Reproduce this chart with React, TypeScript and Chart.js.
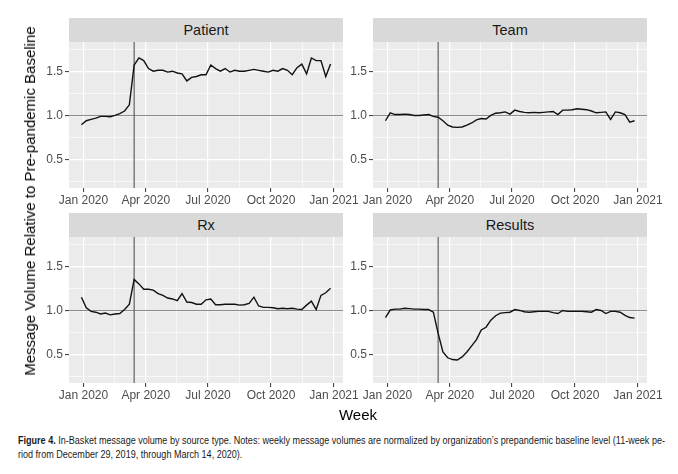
import React, { useEffect, useLayoutEffect, useRef } from "react";
import { Chart, registerables } from "chart.js";

Chart.register(...registerables);

// ---------- DATA ----------
const WEEKS = [
  "2019-12-29", "2020-01-05", "2020-01-12", "2020-01-19", "2020-01-26",
  "2020-02-02", "2020-02-09", "2020-02-16", "2020-02-23", "2020-03-01",
  "2020-03-08", "2020-03-15", "2020-03-22", "2020-03-29", "2020-04-05",
  "2020-04-12", "2020-04-19", "2020-04-26", "2020-05-03", "2020-05-10",
  "2020-05-17", "2020-05-24", "2020-05-31", "2020-06-07", "2020-06-14",
  "2020-06-21", "2020-06-28", "2020-07-05", "2020-07-12", "2020-07-19",
  "2020-07-26", "2020-08-02", "2020-08-09", "2020-08-16", "2020-08-23",
  "2020-08-30", "2020-09-06", "2020-09-13", "2020-09-20", "2020-09-27",
  "2020-10-04", "2020-10-11", "2020-10-18", "2020-10-25", "2020-11-01",
  "2020-11-08", "2020-11-15", "2020-11-22", "2020-11-29", "2020-12-06",
  "2020-12-13", "2020-12-20", "2020-12-27",
];

const PATIENT = [
  0.894, 0.94, 0.955, 0.97, 0.99, 0.99, 0.985, 1.0, 1.02, 1.05,
  1.12, 1.57, 1.65, 1.62, 1.53, 1.5, 1.51, 1.51, 1.49, 1.5,
  1.48, 1.47, 1.39, 1.43, 1.44, 1.46, 1.46, 1.57, 1.53, 1.5,
  1.53, 1.49, 1.51, 1.5, 1.5, 1.51, 1.52, 1.51, 1.5, 1.49,
  1.51, 1.5, 1.53, 1.51, 1.46, 1.54, 1.58, 1.47, 1.65, 1.62,
  1.62, 1.44, 1.58,
];

const TEAM = [
  0.94, 1.03, 1.01, 1.01, 1.015, 1.01, 1.0, 1.0, 1.005, 1.01,
  0.99, 0.98, 0.94, 0.89, 0.87, 0.865, 0.87, 0.89, 0.915, 0.95,
  0.965, 0.96, 1.0, 1.025, 1.03, 1.04, 1.015, 1.06, 1.045, 1.035,
  1.03, 1.035, 1.03, 1.035, 1.04, 1.045, 1.01, 1.06, 1.06, 1.065,
  1.075, 1.07, 1.065, 1.05, 1.03, 1.035, 1.04, 0.955, 1.04, 1.03,
  1.01, 0.925, 0.94,
];

const RX = [
  1.15, 1.03, 0.99, 0.98, 0.96, 0.97, 0.95, 0.96, 0.965, 1.01,
  1.07, 1.35, 1.3, 1.24, 1.24, 1.23, 1.19, 1.17, 1.14, 1.13,
  1.11, 1.19, 1.095, 1.09, 1.07, 1.07, 1.12, 1.13, 1.065, 1.065,
  1.07, 1.07, 1.07, 1.06, 1.065, 1.08, 1.15, 1.05, 1.035, 1.035,
  1.03, 1.02, 1.025, 1.02, 1.025, 1.015, 1.01, 1.06, 1.105, 1.01,
  1.17, 1.2, 1.25,
];

const RESULTS = [
  0.92, 1.005, 1.015, 1.015, 1.025, 1.02, 1.015, 1.015, 1.01, 1.01,
  0.98, 0.74, 0.53, 0.465, 0.445, 0.44, 0.475, 0.53, 0.6, 0.67,
  0.78, 0.81, 0.89, 0.94, 0.97, 0.975, 0.98, 1.01, 1.0, 0.985,
  0.98, 0.985, 0.99, 0.99, 0.99, 0.975, 0.965, 1.0, 0.99, 0.99,
  0.99, 0.99, 0.985, 0.98, 1.01, 1.0, 0.965, 0.99, 0.99, 0.98,
  0.945, 0.92, 0.913,
];

const PANEL_TITLES = ["Patient", "Team", "Rx", "Results"];
const X_TICK_DATES = ["2020-01-01", "2020-04-01", "2020-07-01", "2020-10-01", "2021-01-01"];
const X_TICK_LABELS = ["Jan 2020", "Apr 2020", "Jul 2020", "Oct 2020", "Jan 2021"];
const Y_TICKS = [0.5, 1.0, 1.5];
const Y_TICK_LABELS = ["0.5", "1.0", "1.5"];
const Y_MINOR = [0.25, 0.75, 1.25, 1.75];
const Y_MIN = 0.18;
const Y_MAX = 1.83;
const BASELINE = 1.0;
const PANDEMIC_DATE = "2020-03-15";

const Y_TITLE = "Message Volume Relative to Pre-pandemic Baseline";
const X_TITLE = "Week";
const CAPTION_BOLD = "Figure 4.";
const CAPTION_LINE1 =
  " In-Basket message volume by source type. Notes: weekly message volumes are normalized by organization\u2019s prepandemic baseline level (11-week pe-";
const CAPTION_LINE2 = "riod from December 29, 2019, through March 14, 2020).";

// ---------- LAYOUT ----------
const FONT = '"Liberation Sans", Arial, Helvetica, sans-serif';
const PLOT_W = 274;
const PLOT_H = 146;
const STRIP_H = 24;
const AXIS_W = 40;
const XAXIS_H = 30;
const PAD_R = 26;
const COL_LEFT = [69, 373];
const ROW_TOP = [18, 213];
const CAPTION_W = 647;

const dayNum = (s: string) => {
  const [y, m, d] = s.split("-").map(Number);
  return (Date.UTC(y, m - 1, d) - Date.UTC(2020, 0, 1)) / 86400000;
};
const near = (a: number, b: number) => Math.abs(a - b) < 1e-6;

function Panel({ title, values, left, top }: { title: string; values: number[]; left: number; top: number }) {
  const ref = useRef<HTMLCanvasElement | null>(null);
  const cw = PLOT_W + AXIS_W + PAD_R;
  const ch = PLOT_H + XAXIS_H;

  useEffect(() => {
    if (!ref.current) return;
    const xs = WEEKS.map(dayNum);
    const xMajor = X_TICK_DATES.map(dayNum);
    const xMinor: number[] = [];
    for (let i = 0; i < xMajor.length - 1; i++) xMinor.push((xMajor[i] + xMajor[i + 1]) / 2);
    const xAll = [...xMajor, ...xMinor].sort((a, b) => a - b);
    const yAll = [...Y_TICKS, ...Y_MINOR].sort((a, b) => a - b);
    const span = xs[xs.length - 1] - xs[0];
    const xLo = xs[0] - 0.05 * span;
    const xHi = xs[xs.length - 1] + 0.05 * span;
    const vDay = dayNum(PANDEMIC_DATE);
    const isXMajor = (v: number) => xMajor.some((m) => near(m, v));
    const isYMajor = (v: number) => Y_TICKS.some((m) => near(m, v));

    const panelPlugin = {
      id: "panelBg",
      beforeDraw(chart: any) {
        const { ctx, chartArea: a } = chart;
        ctx.save();
        ctx.fillStyle = "#EBEBEB";
        ctx.fillRect(a.left, a.top, a.right - a.left, a.bottom - a.top);
        ctx.restore();
      },
      beforeDatasetsDraw(chart: any) {
        const { ctx, chartArea: a, scales } = chart;
        ctx.save();
        const yp = scales.y.getPixelForValue(BASELINE);
        ctx.strokeStyle = "#8C8C8C";
        ctx.lineWidth = 1.1;
        ctx.beginPath();
        ctx.moveTo(a.left, yp);
        ctx.lineTo(a.right, yp);
        ctx.stroke();
        const xp = scales.x.getPixelForValue(vDay);
        ctx.strokeStyle = "#555555";
        ctx.lineWidth = 1.1;
        ctx.beginPath();
        ctx.moveTo(xp, a.top);
        ctx.lineTo(xp, a.bottom);
        ctx.stroke();
        ctx.restore();
      },
    };

    const chart = new Chart(ref.current, {
      type: "line",
      data: {
        datasets: [
          {
            data: xs.map((x, i) => ({ x, y: values[i] })),
            borderColor: "#111111",
            borderWidth: 1.4,
            pointRadius: 0,
            tension: 0,
            fill: false,
          },
        ],
      },
      options: {
        responsive: false,
        animation: false,
        events: [],
        layout: { padding: { left: 0, right: PAD_R, top: 0, bottom: 0 } },
        plugins: { legend: { display: false }, tooltip: { enabled: false }, title: { display: false } },
        scales: {
          x: {
            type: "linear",
            min: xLo,
            max: xHi,
            afterBuildTicks: (s: any) => {
              s.ticks = xAll.map((v) => ({ value: v }));
            },
            afterFit: (s: any) => {
              s.height = XAXIS_H;
              s.paddingLeft = 0;
              s.paddingRight = 0;
            },
            border: { display: false },
            grid: {
              color: "#FFFFFF",
              lineWidth: (c: any) => (c.tick && isXMajor(c.tick.value) ? 1.2 : 0.6),
              tickLength: 4,
              tickWidth: 1,
              tickColor: (c: any) => (c.tick && isXMajor(c.tick.value) ? "#333333" : "rgba(0,0,0,0)"),
            },
            ticks: {
              autoSkip: false,
              maxRotation: 0,
              minRotation: 0,
              padding: 1,
              color: "#4D4D4D",
              font: { family: FONT, size: 12 },
              callback: (v: any) => {
                const i = xMajor.findIndex((m) => near(m, Number(v)));
                return i >= 0 ? X_TICK_LABELS[i] : "";
              },
            },
          },
          y: {
            type: "linear",
            min: Y_MIN,
            max: Y_MAX,
            afterBuildTicks: (s: any) => {
              s.ticks = yAll.map((v) => ({ value: v }));
            },
            afterFit: (s: any) => {
              s.width = AXIS_W;
              s.paddingTop = 0;
              s.paddingBottom = 0;
            },
            border: { display: false },
            grid: {
              color: "#FFFFFF",
              lineWidth: (c: any) => (c.tick && isYMajor(c.tick.value) ? 1.2 : 0.6),
              tickLength: 4,
              tickWidth: 1,
              tickColor: (c: any) => (c.tick && isYMajor(c.tick.value) ? "#333333" : "rgba(0,0,0,0)"),
            },
            ticks: {
              autoSkip: false,
              padding: 2,
              color: "#4D4D4D",
              font: { family: FONT, size: 12 },
              callback: (v: any) => {
                const i = Y_TICKS.findIndex((m) => near(m, Number(v)));
                return i >= 0 ? Y_TICK_LABELS[i] : "";
              },
            },
          },
        },
      },
      plugins: [panelPlugin],
    } as any);
    return () => chart.destroy();
  }, [values]);

  return (
    <>
      <div
        style={{
          position: "absolute",
          left,
          top,
          width: PLOT_W,
          height: STRIP_H,
          lineHeight: STRIP_H + "px",
          background: "#D9D9D9",
          color: "#1A1A1A",
          textAlign: "center",
          fontSize: 14.5,
          fontFamily: FONT,
        }}
      >
        {title}
      </div>
      <div style={{ position: "absolute", left: left - AXIS_W, top: top + STRIP_H, width: cw, height: ch }}>
        <canvas ref={ref} width={cw} height={ch} style={{ width: cw, height: ch, display: "block" }} />
      </div>
    </>
  );
}

export default function App() {
  const l1 = useRef<HTMLSpanElement | null>(null);
  const l2 = useRef<HTMLSpanElement | null>(null);

  useLayoutEffect(() => {
    if (!l1.current || !l2.current) return;
    const w = l1.current.offsetWidth;
    const s = w > 0 ? CAPTION_W / w : 1;
    [l1.current, l2.current].forEach((el) => {
      el.style.transform = `scaleX(${s})`;
    });
  }, []);

  const series = [PATIENT, TEAM, RX, RESULTS];
  const plotCenterY = (ROW_TOP[0] + ROW_TOP[1] + STRIP_H + PLOT_H) / 2;
  const plotCenterX = (COL_LEFT[0] + COL_LEFT[1] + PLOT_W) / 2;

  return (
    <div
      style={{
        position: "fixed",
        left: 0,
        top: 0,
        width: 678,
        height: 474,
        background: "#FFFFFF",
        overflow: "hidden",
        fontFamily: FONT,
      }}
    >
      {PANEL_TITLES.map((t, i) => (
        <Panel key={t} title={t} values={series[i]} left={COL_LEFT[i % 2]} top={ROW_TOP[Math.floor(i / 2)]} />
      ))}
      <div
        style={{
          position: "absolute",
          left: 30,
          top: plotCenterY,
          transform: "translate(-50%, -50%) rotate(-90deg)",
          whiteSpace: "nowrap",
          fontSize: 15,
          color: "#000000",
          lineHeight: "18px",
        }}
      >
        {Y_TITLE}
      </div>
      <div
        style={{
          position: "absolute",
          left: plotCenterX,
          top: 415,
          transform: "translate(-50%, -50%)",
          whiteSpace: "nowrap",
          fontSize: 15,
          color: "#000000",
          lineHeight: "18px",
        }}
      >
        {X_TITLE}
      </div>
      <span
        ref={l1}
        style={{
          position: "absolute",
          left: 18,
          top: 434,
          whiteSpace: "nowrap",
          fontSize: 10,
          lineHeight: "14px",
          color: "#1A1A1A",
          transformOrigin: "left center",
          display: "inline-block",
        }}
      >
        <b>{CAPTION_BOLD}</b>
        {CAPTION_LINE1}
      </span>
      <span
        ref={l2}
        style={{
          position: "absolute",
          left: 18,
          top: 448,
          whiteSpace: "nowrap",
          fontSize: 10,
          lineHeight: "14px",
          color: "#1A1A1A",
          transformOrigin: "left center",
          display: "inline-block",
        }}
      >
        {CAPTION_LINE2}
      </span>
    </div>
  );
}
